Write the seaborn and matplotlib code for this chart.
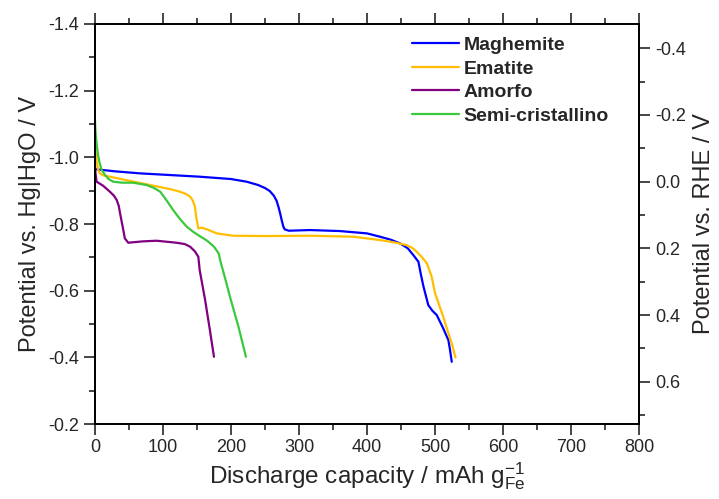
import seaborn as sns
import matplotlib.pyplot as plt
from matplotlib.ticker import MultipleLocator
import pandas as pd

# offset between the two reference electrodes (V)
rhe_offset = 0.927

names = ['Maghemite', 'Ematite', 'Amorfo', 'Semi-cristallino']
colors = ['#0000FF', '#FFBF00', '#800080', '#3CC83C']

magh_x = [0, 2.5, 30, 66, 110, 154, 200, 223, 240, 250, 257, 263, 267, 270, 272.5, 274.5, 277, 279, 285, 316,
          360, 400, 419, 435, 448.5, 460, 468, 475.5, 479, 483, 490, 496, 502.5, 512, 519.5, 522, 524.5]
magh_y = [-0.965, -0.964, -0.958, -0.952, -0.947, -0.942, -0.935, -0.927, -0.917, -0.908, -0.899, -0.885, -0.870,
          -0.850, -0.830, -0.812, -0.792, -0.784, -0.780, -0.782, -0.779, -0.772, -0.762, -0.753, -0.742, -0.727,
          -0.707, -0.687, -0.650, -0.612, -0.557, -0.540, -0.527, -0.487, -0.452, -0.422, -0.387]

emat_x = [0, 1.5, 3, 5, 7.4, 12, 22, 50, 81, 110, 125, 134, 140, 144, 147, 149, 152, 157, 165, 179, 203, 250, 316,
          380, 419, 440, 458, 466, 473, 481, 488, 495, 500, 506, 512, 518, 524.5, 530]
emat_y = [-1.042, -1.005, -0.980, -0.962, -0.952, -0.946, -0.942, -0.930, -0.917, -0.905, -0.897, -0.890, -0.882,
          -0.870, -0.852, -0.820, -0.787, -0.789, -0.784, -0.772, -0.765, -0.764, -0.765, -0.762, -0.752, -0.745,
          -0.737, -0.729, -0.717, -0.700, -0.682, -0.642, -0.592, -0.557, -0.522, -0.482, -0.442, -0.400]

amor_x = [0, 1, 2.5, 12, 22, 28, 32, 35, 37, 41, 44, 49, 70, 90.5, 120, 132, 140, 147, 152, 154, 162, 169, 175]
amor_y = [-0.975, -0.950, -0.927, -0.915, -0.897, -0.885, -0.872, -0.855, -0.832, -0.790, -0.757, -0.744, -0.748,
          -0.750, -0.744, -0.740, -0.732, -0.718, -0.702, -0.662, -0.572, -0.482, -0.402]

semi_x = [0, 1, 2.5, 4.5, 7, 10, 15, 20, 27, 40, 56, 76, 87, 96, 105, 115, 125, 135, 145, 154, 165, 175, 182, 184,
          191, 198.5, 211, 222]
semi_y = [-1.117, -1.075, -1.042, -1.008, -0.982, -0.962, -0.947, -0.935, -0.927, -0.924, -0.924, -0.917, -0.908,
          -0.897, -0.872, -0.842, -0.815, -0.792, -0.776, -0.764, -0.750, -0.732, -0.712, -0.692, -0.640, -0.582,
          -0.492, -0.402]

frames = []
for name, xs, ys in zip(names, [magh_x, emat_x, amor_x, semi_x], [magh_y, emat_y, amor_y, semi_y]):
    frames.append(pd.DataFrame({'cap': xs, 'pot': ys, 'sample': name}))
df = pd.concat(frames, ignore_index=True)

sns.set_style('white')
plt.rcParams['font.family'] = ['Liberation Sans', 'DejaVu Sans']
plt.rcParams['mathtext.fontset'] = 'custom'
plt.rcParams['mathtext.rm'] = 'Liberation Sans'
plt.rcParams['mathtext.it'] = 'Liberation Sans'

fig = plt.figure(figsize=(7.19, 4.99), dpi=100)
ax = fig.add_axes([0.132, 0.150, 0.757, 0.802])

sns.lineplot(data=df, x='cap', y='pot', hue='sample', hue_order=names, palette=colors,
             sort=False, estimator=None, units='sample', linewidth=1.6, ax=ax)

ax.set_xlim(0, 800)
ax.set_ylim(-0.2, -1.4)
ax.xaxis.set_major_locator(MultipleLocator(100))
ax.xaxis.set_minor_locator(MultipleLocator(50))
ax.yaxis.set_major_locator(MultipleLocator(0.2))
ax.yaxis.set_minor_locator(MultipleLocator(0.1))
ax.yaxis.set_major_formatter(plt.FuncFormatter(lambda v, p: '%.1f' % v))
ax.tick_params(which='major', direction='out', length=8, width=1.2, labelsize=13,
               bottom=True, left=True, top=True)
ax.tick_params(which='minor', direction='out', length=4, width=1.2,
               bottom=True, left=True, top=True)
ax.tick_params(axis='x', which='both', top=True, labeltop=False)
ax.tick_params(axis='x', which='both', pad=3)
for s in ax.spines.values():
    s.set_linewidth(1.3)
    s.set_color('black')

ax.set_xlabel(r'Discharge capacity / mAh g$_{\mathrm{Fe}}^{-1}$', fontsize=17.5, labelpad=3)
ax.set_ylabel('Potential vs. Hg|HgO / V', fontsize=17, labelpad=5)

ax2 = ax.twinx()
ax2.set_ylim(-0.2 + rhe_offset, -1.4 + rhe_offset)
ax2.yaxis.set_major_locator(MultipleLocator(0.2))
ax2.yaxis.set_minor_locator(MultipleLocator(0.1))
ax2.yaxis.set_major_formatter(plt.FuncFormatter(lambda v, p: '%.1f' % (0.0 if abs(v) < 1e-9 else v)))
ax2.tick_params(which='major', direction='out', length=8, width=1.2, labelsize=13, right=True)
ax2.tick_params(which='minor', direction='out', length=4, width=1.2, right=True)
ax2.set_ylabel('Potential vs. RHE / V', fontsize=17, labelpad=5)
for s in ax2.spines.values():
    s.set_linewidth(1.3)
    s.set_color('black')

handles, labels = ax.get_legend_handles_labels()
leg = ax.legend(handles, labels, loc='upper left', bbox_to_anchor=(0.56, 1.0), frameon=False,
                prop={'weight': 'bold', 'size': 14}, handlelength=2.4, handletextpad=0.25,
                labelspacing=0.3, borderaxespad=0.25)
for line in leg.get_lines():
    line.set_linewidth(1.6)

fig.savefig('out.png', dpi=100)
